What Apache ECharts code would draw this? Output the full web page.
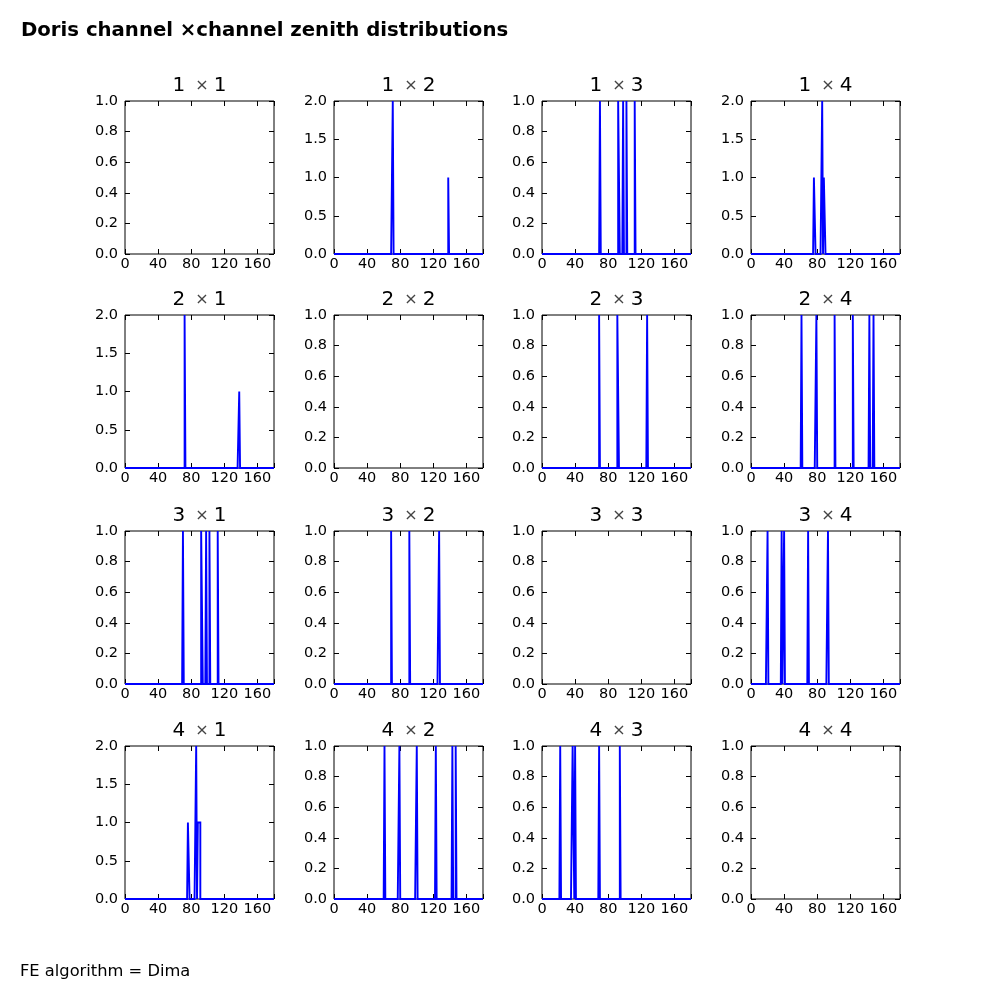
<!DOCTYPE html>
<html>
<head>
<meta charset="utf-8">
<script src="https://cdn.jsdelivr.net/npm/echarts@6/dist/echarts.min.js"></script>
<style>html,body{margin:0;padding:0;background:#fff;overflow:hidden;width:1000px;height:1000px}
#c{width:1000px;height:1000px}</style>
</head>
<body>
<div id="c"></div>
<script>
// ---- data: histogram bins (bin start in degrees, count), 1-degree bins over 0..180 ----
const p11 = [];
const p12 = [[71, 2], [138, 1]];
const p13 = [[70, 1], [92, 1], [93, 1], [98, 1], [102, 1], [112, 1]];
const p14 = [[76, 1], [77, 1], [85, 1], [86, 2], [88, 1], [89, 1]];
const p21 = [[72, 2], [138, 1]];
const p22 = [];
const p23 = [[69, 1], [91, 1], [92, 1], [127, 1]];
const p24 = [[61, 1], [79, 1], [101, 1], [123, 1], [143, 1], [148, 1]];
const p31 = [[70, 1], [92, 1], [93, 1], [98, 1], [102, 1], [112, 1]];
const p32 = [[69, 1], [91, 1], [127, 1]];
const p33 = [];
const p34 = [[20, 1], [37, 1], [40, 1], [69, 1], [93, 1]];
const p41 = [[76, 1], [77, 1], [85, 1], [86, 2], [88, 1], [89, 1], [90, 1]];
const p42 = [[61, 1], [79, 1], [100, 1], [123, 1], [143, 1], [147, 1]];
const p43 = [[22, 1], [37, 1], [38, 1], [40, 1], [69, 1], [94, 1]];
const p44 = [];

const panels = [p11, p12, p13, p14, p21, p22, p23, p24, p31, p32, p33, p34, p41, p42, p43, p44];
const rowNames = ['1', '2', '3', '4'];
const colNames = ['1', '2', '3', '4'];
const xTickLabels = [0, 40, 80, 120, 160];
const yTicksUnit = [0.0, 0.2, 0.4, 0.6, 0.8, 1.0];
const yTicksDouble = [0.0, 0.5, 1.0, 1.5, 2.0];
const suptitle = 'Doris channel \u00d7channel zenith distributions';
const footer = 'FE algorithm = Dima';

// ---- layout ----
const gridLeft = [125, 334, 542, 751];
const gridTop = [101, 315, 531, 746];
const gridW = 149, gridH = 153;
const FONT = 'DejaVu Sans';
const XMIN = 0, XMAX = 180, NBINS = 180;

function outline(bins) {
  if (!bins.length) return [];
  const counts = new Array(NBINS).fill(0);
  bins.forEach(function (b) { counts[b[0]] += b[1]; });
  const pts = [[XMIN, 0]];
  for (let i = 0; i < NBINS; i++) {
    pts.push([i, counts[i]]);
    pts.push([i + 1, counts[i]]);
  }
  pts.push([XMAX, 0]);
  return pts;
}
function ticksOn() { return { show: true, inside: true, length: 5, lineStyle: { color: '#000', width: 1 } }; }
function hiddenLine() { return { show: false, onZero: false }; }

const grids = [], xAxes = [], yAxes = [], series = [], graphics = [];
panels.forEach(function (bins, k) {
  const r = Math.floor(k / 4), c = k % 4;
  const maxCount = bins.reduce(function (m, b) { return Math.max(m, b[1]); }, 0);
  const ymax = Math.max(1, maxCount);
  const yt = ymax === 2 ? yTicksDouble : yTicksUnit;
  const yInterval = yt[1] - yt[0];
  const xInterval = xTickLabels[1] - xTickLabels[0];
  grids.push({
    left: gridLeft[c], top: gridTop[r], width: gridW, height: gridH,
    show: true, borderColor: '#000', borderWidth: 1, backgroundColor: 'transparent'
  });
  const xBase = { type: 'value', gridIndex: k, min: XMIN, max: XMAX, interval: xInterval,
    axisLine: hiddenLine(), splitLine: { show: false } };
  const yBase = { type: 'value', gridIndex: k, min: 0, max: ymax, interval: yInterval,
    axisLine: hiddenLine(), splitLine: { show: false } };
  xAxes.push(Object.assign({}, xBase, {
    position: 'bottom', axisTick: { show: false },
    axisLabel: { show: true, margin: 3, color: '#000', fontFamily: FONT, fontSize: 14.5, showMaxLabel: false,
      formatter: function (v) { return xTickLabels.indexOf(v) >= 0 ? String(v) : ''; } }
  }));
  xAxes.push(Object.assign({}, xBase, { position: 'top', axisTick: ticksOn(), axisLabel: { show: false } }));
  xAxes.push(Object.assign({}, xBase, { position: 'bottom', axisTick: ticksOn(), axisLabel: { show: false } }));
  yAxes.push(Object.assign({}, yBase, {
    position: 'left', axisTick: { show: false },
    axisLabel: { show: true, margin: 7, color: '#000', fontFamily: FONT, fontSize: 14.5,
      formatter: function (v) { return v.toFixed(1); } }
  }));
  yAxes.push(Object.assign({}, yBase, { position: 'right', axisTick: ticksOn(), axisLabel: { show: false } }));
  yAxes.push(Object.assign({}, yBase, { position: 'left', axisTick: ticksOn(), axisLabel: { show: false } }));
  series.push({
    type: 'line', xAxisIndex: 3 * k, yAxisIndex: 3 * k, data: outline(bins),
    showSymbol: false, symbol: 'none', animation: false, clip: false,
    lineStyle: { color: '#0000ff', width: 1.9, join: 'miter', cap: 'butt' }, z: 3
  });
  graphics.push({
    type: 'text', x: gridLeft[c] + gridW / 2, y: gridTop[r] - 5,
    style: {
      text: '{n|' + rowNames[r] + '}{s|  \u00d7 }{n|' + colNames[c] + '}',
      align: 'center', verticalAlign: 'bottom',
      rich: {
        n: { fontFamily: FONT, fontSize: 20, fill: '#000' },
        s: { fontFamily: FONT, fontSize: 16, fill: '#444' }
      }
    }
  });
});

graphics.push({
  type: 'text', x: 21, y: 31,
  style: { text: suptitle, fontFamily: FONT, fontWeight: 'bold', fontSize: 19.7, fill: '#000', verticalAlign: 'middle' }
});
graphics.push({
  type: 'text', x: 20, y: 972,
  style: { text: footer, fontFamily: FONT, fontSize: 16.3, fill: '#000', verticalAlign: 'middle' }
});

const chart = echarts.init(document.getElementById('c'), null, { renderer: 'canvas' });
chart.setOption({
  backgroundColor: '#fff',
  animation: false,
  grid: grids, xAxis: xAxes, yAxis: yAxes, series: series, graphic: graphics
});
</script>
</body>
</html>
